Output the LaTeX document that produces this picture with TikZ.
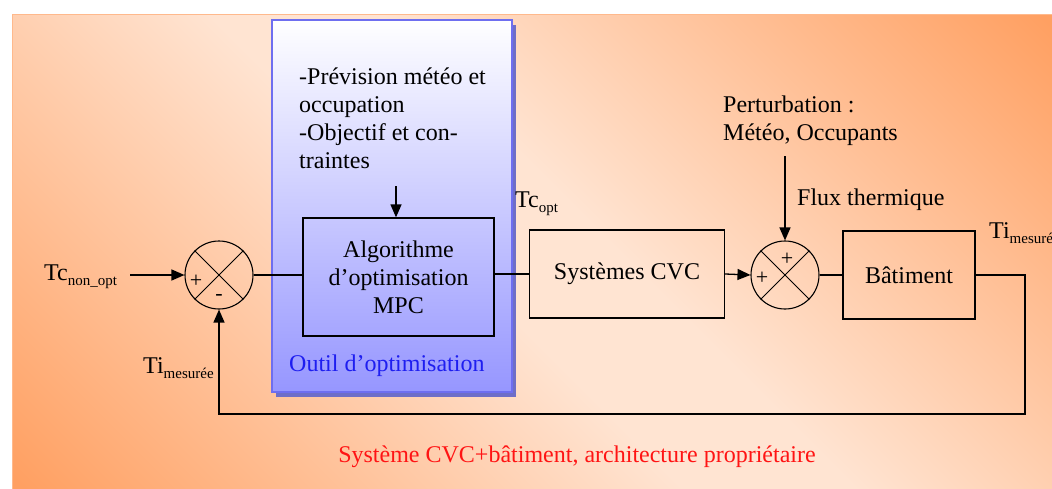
\documentclass[tikz,border=0pt]{standalone}
\usepackage{fontspec}
\setmainfont{Liberation Serif}
\usetikzlibrary{arrows.meta}
\definecolor{bgor}{RGB}{255,160,98}
\definecolor{bglt}{RGB}{255,228,210}
\definecolor{bgedge}{RGB}{255,185,140}
\definecolor{boxblue}{RGB}{150,150,255}
\definecolor{boxborder}{RGB}{110,110,240}
\definecolor{shadowblue}{RGB}{110,110,200}
\definecolor{outilblue}{RGB}{30,30,240}
\definecolor{redtxt}{RGB}{255,20,20}
\pgfdeclareverticalshading{bgshade}{100bp}{color(0bp)=(bgor); color(15bp)=(bgor); color(46bp)=(bglt); color(54bp)=(bglt); color(85bp)=(bgor); color(100bp)=(bgor)}
\newcommand{\mysub}[1]{\raisebox{-5pt}{\fontsize{15}{15}\selectfont #1}}
\begin{document}
\begin{tikzpicture}[x=1pt,y=-1pt,
  every node/.style={font=\fontsize{24}{28}\selectfont},
  blk/.style={draw=black, line width=1.3pt, inner sep=0pt},
  sumc/.style={circle, draw=black, line width=1.1pt, minimum size=68pt, inner sep=0pt},
  conn/.style={line width=1.3pt},
  arr/.style={conn, -{Triangle[length=13pt,width=11pt]}},
  lbl/.style={inner sep=0pt, anchor=base west},
  sgn/.style={font=\fontsize{22}{22}\selectfont, inner sep=0pt}
]
\useasboundingbox (0,0) rectangle (1052,488);
\fill[white] (0,0) rectangle (1052,488);
\shade[shading=bgshade, shading angle=-45] (12,14) rectangle (1052,488);
\draw[bgedge, line width=1pt] (12.5,14.5) rectangle (1060,496);
% optimisation tool box
\fill[shadowblue] (276,25) rectangle (516,397);
\shade[top color=white, bottom color=boxblue, draw=boxborder, line width=1.5pt] (272,20) rectangle (512,392);
% blocks
\node[blk, minimum width=191pt, minimum height=118pt, align=center] (mpc) at (398.5,277) {Algorithme\\d’optimisation\\MPC};
\node[blk, minimum width=195pt, minimum height=88pt] (cvc) at (627,274) {Systèmes CVC};
\node[blk, minimum width=132pt, minimum height=88pt] (bat) at (909,275) {Bâtiment};
\node[sumc] (s1) at (219,275) {};
\node[sumc] (s2) at (785,275) {};
\draw[line width=0.8pt] (s1.north west) -- (s1.south east) (s1.north east) -- (s1.south west);
\draw[line width=0.8pt] (s2.north west) -- (s2.south east) (s2.north east) -- (s2.south west);
% signs
\node[sgn] (p1) at (196,281) {+};
\node[sgn] (m1) at (219,297) {-};
\node[sgn] (p2a) at (787,259) {+};
\node[sgn] (p2b) at (762,278) {+};
% labels
\node[lbl] (tcin) at (44,280) {Tc\mysub{non\_opt}};
\node[lbl, align=left] (prev) at (299,168) {-Prévision météo et\\occupation\\-Objectif et con-\\traintes};
\node[lbl, align=left] (pert) at (723,140) {Perturbation :\\Météo, Occupants};
\node[lbl] (flux) at (797,205) {Flux thermique};
\node[lbl] (tcopt) at (515,207) {Tc\mysub{opt}};
\node[lbl] (tiR) at (989,238) {Ti\mysub{mesurée}};
\node[lbl] (tiL) at (143,373) {Ti\mysub{mesurée}};
\node[lbl, text=outilblue] (outil) at (289,371) {Outil d’optimisation};
\node[inner sep=0pt, anchor=base, text=redtxt] (sys) at (577,462) {Système CVC+bâtiment, architecture propriétaire};
% connectors
\coordinate (inS) at (130,275);
\draw[arr] (inS) -- (s1.west);
\draw[conn] (s1.east) -- (s1.east -| mpc.west);
\draw[conn] (mpc.east |- cvc.west) -- (cvc.west);
\draw[arr] (cvc.east) -- (s2.west);
\draw[conn] (s2.east) -- (bat.west);
\coordinate (fbR) at (1025,275);
\coordinate (fbB) at (1025,414);
\draw[arr] (bat.east) -- (fbR) -- (fbB) -- (fbB -| s1.south) -- (s1.south);
\coordinate (pertTop) at (785,156);
\draw[arr] (pertTop) -- (s2.north);
\coordinate (prevTop) at (396,186);
\draw[arr] (prevTop) -- (prevTop |- mpc.north);
\end{tikzpicture}
\end{document}
